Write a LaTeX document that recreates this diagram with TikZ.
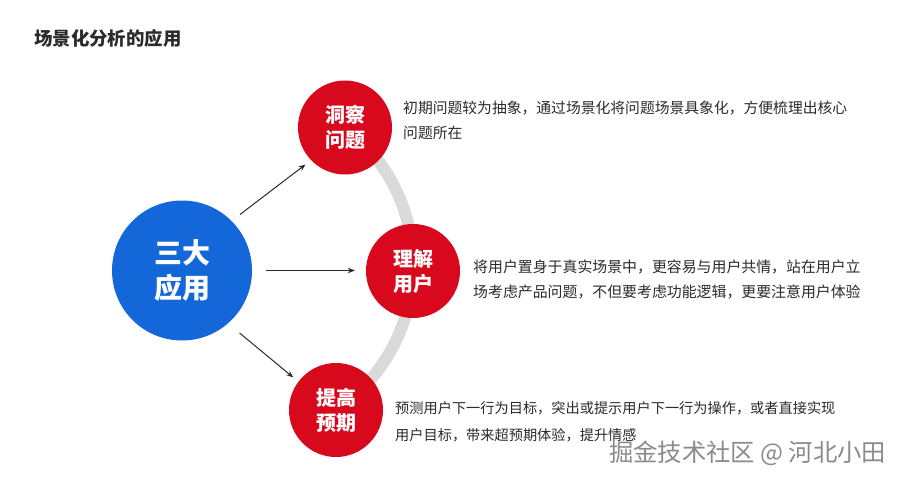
\documentclass[tikz,border=0pt]{standalone}
\usepackage{fontspec}
\setmainfont{Noto Sans CJK SC}
\usetikzlibrary{arrows.meta}
\definecolor{cblue}{HTML}{1467D8}
\definecolor{cred}{HTML}{D8091D}
\definecolor{carc}{HTML}{DADADA}
\definecolor{ctext}{HTML}{2B2B2B}
\definecolor{cwm}{HTML}{8A8A8A}
\begin{document}
\begin{tikzpicture}[x=1pt,y=-1pt,
  bigcirc/.style={circle,fill=cblue,minimum size=140pt,inner sep=0pt,text=white,align=center,
    font=\fontsize{28}{35}\selectfont\bfseries},
  redcirc/.style={circle,fill=cred,minimum size=94pt,inner sep=0pt,text=white,align=center,
    font=\fontsize{20}{25}\selectfont\bfseries},
  desc/.style={anchor=west,inner sep=0pt,align=left,text=ctext},
  arr/.style={draw=ctext,line width=1pt,-{Stealth[length=7pt,width=5.5pt]}}]
\useasboundingbox[fill=white] (0,0) rectangle (916,484);
% title
\node[anchor=west,inner sep=0pt,text=ctext,font=\fontsize{18.4}{22}\selectfont\bfseries] (title) at (34,38) {场景化分析的应用};
% gray arc
\coordinate (arcc) at (238.6,265.3);
\draw[carc,line width=12pt] (arcc) ++(-52.3:174.5) arc[start angle=-52.3,end angle=56,radius=174.5];
% circles
\node[bigcirc] (main) at (182,270.5) {三大\\应用};
\node[redcirc] (top) at (345,127.5) {洞察\\问题};
\node[redcirc] (mid) at (413,271) {理解\\用户};
\node[redcirc] (bot) at (336,410) {提高\\预期};
% arrows
\draw[arr,shorten <=10.5pt,shorten >=7pt] (main.45) -- (top.224);
\draw[arr,shorten <=14pt,shorten >=11pt] (main.east) -- (mid.west |- main.east);
\draw[arr,shorten <=15pt,shorten >=6.6pt] (main.-49) -- (bot.143);
% descriptions
\node[desc,font=\fontsize{14.8}{25.5}\selectfont] (dtop) at (403,120.5)
  {初期问题较为抽象，通过场景化将问题场景具象化，方便梳理出核心\\问题所在};
\node[desc,font=\fontsize{14.9}{25.5}\selectfont] (dmid) at (473,279.5)
  {将用户置身于真实场景中，更容易与用户共情，站在用户立\\场考虑产品问题，不但要考虑功能逻辑，更要注意用户体验};
\node[desc,font=\fontsize{14.2}{27}\selectfont] (dbot) at (395,421.5)
  {预测用户下一行为目标，突出或提示用户下一行为操作，或者直接实现\\用户目标，带来超预期体验，提升情感};
% watermark
\node[anchor=west,inner sep=0pt,text=cwm,font=\fontsize{24.3}{27}\selectfont] (wm) at (609,453) {掘金技术社区 @ 河北小田};
\end{tikzpicture}
\end{document}
